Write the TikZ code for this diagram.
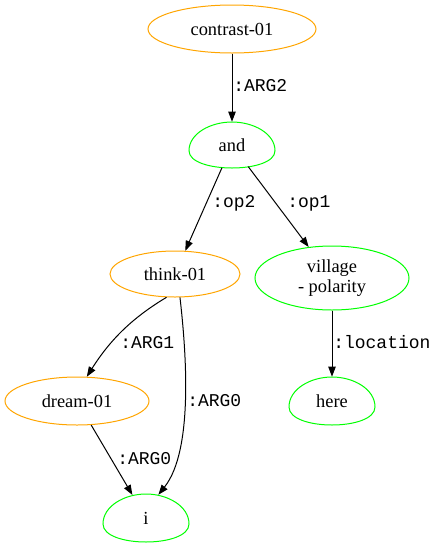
\documentclass[tikz,border=0pt]{standalone}
\usepackage{fontspec}
\setmainfont{Liberation Serif}
\newfontfamily\edgefont{Liberation Mono}
\usetikzlibrary{shapes.geometric,arrows.meta}

\definecolor{framecol}{HTML}{FFA500}
\definecolor{conceptcol}{HTML}{00FF00}

% egg outline around a named node: #1 node, #2 half width, #3 half height (px)
\newcommand\eggoutline[3]{%
  \draw[conceptcol, line width=0.75pt]
    ([shift={({-#2},{0.25*#3})}]#1.center)
      .. controls +(0,{-0.75*#3}) and +({-0.5*#2},0) .. ([shift={(0,{-#3})}]#1.center)
      .. controls +({0.5*#2},0) and +(0,{-0.75*#3}) .. ([shift={({#2},{0.25*#3})}]#1.center)
      .. controls +(0,{0.5*#3}) and +({0.5*#2},0) .. ([shift={(0,{#3})}]#1.center)
      .. controls +({-0.5*#2},0) and +(0,{0.5*#3}) .. ([shift={({-#2},{0.25*#3})}]#1.center)
      -- cycle;}

\begin{document}
\begin{tikzpicture}[x=0.75pt,y=-0.75pt,
  txt/.style={font=\fontsize{13.8}{15}\selectfont, align=center},
  frame/.style={txt, ellipse, draw=framecol, line width=0.75pt, inner sep=0pt},
  egg/.style={txt, ellipse, draw=none, inner sep=0pt},
  village/.style={txt, ellipse, draw=conceptcol, line width=0.75pt, inner sep=0pt},
  rel/.style={-{Triangle[length=7.5pt,width=5.5pt]}, line width=0.75pt},
  lbl/.style={anchor=west, inner sep=0pt, font=\edgefont\fontsize{13.5}{15}\selectfont}
]
\useasboundingbox (0,0) rectangle (438,547);

% concepts
\node[frame, minimum width=126pt, minimum height=36pt] (contrast) at (232,29) {contrast-01};
\node[egg, minimum width=64.5pt, minimum height=34.5pt] (and) at (232,145) {and};
\node[frame, minimum width=97.5pt, minimum height=34.5pt] (think) at (175,274) {think-01};
\node[village, minimum width=115.5pt, minimum height=48pt] (village) at (332,278) {village\\- polarity};
\node[frame, minimum width=108pt, minimum height=36pt] (dream) at (77,401) {dream-01};
\node[egg, minimum width=64.5pt, minimum height=36pt] (here) at (332,401) {here};
\node[egg, minimum width=64.5pt, minimum height=36pt] (i) at (146,518) {i};

\eggoutline{and}{43}{23}
\eggoutline{here}{43}{24}
\eggoutline{i}{43}{24}

% relations
\draw[rel] (contrast) -- (and);
\draw[rel] (and) -- (think);
\draw[rel] (and) -- (village);
\draw[rel] (village) -- (here);
\draw[rel] (think.250) .. controls (132,318) and (110,340) .. (dream.68);
\draw[rel] (think.282) .. controls (186,350) and (194,450) .. (i.62);
\draw[rel] (dream) -- (i);

% role labels
\node[lbl] (l1) at (233,86) {:ARG2};
\node[lbl] (l2) at (212,203) {:op2};
\node[lbl] (l3) at (287,203) {:op1};
\node[lbl] (l4) at (333,342) {:location};
\node[lbl] (l5) at (120,343) {:ARG1};
\node[lbl] (l6) at (187,401) {:ARG0};
\node[lbl] (l7) at (117,459) {:ARG0};
\end{tikzpicture}
\end{document}
